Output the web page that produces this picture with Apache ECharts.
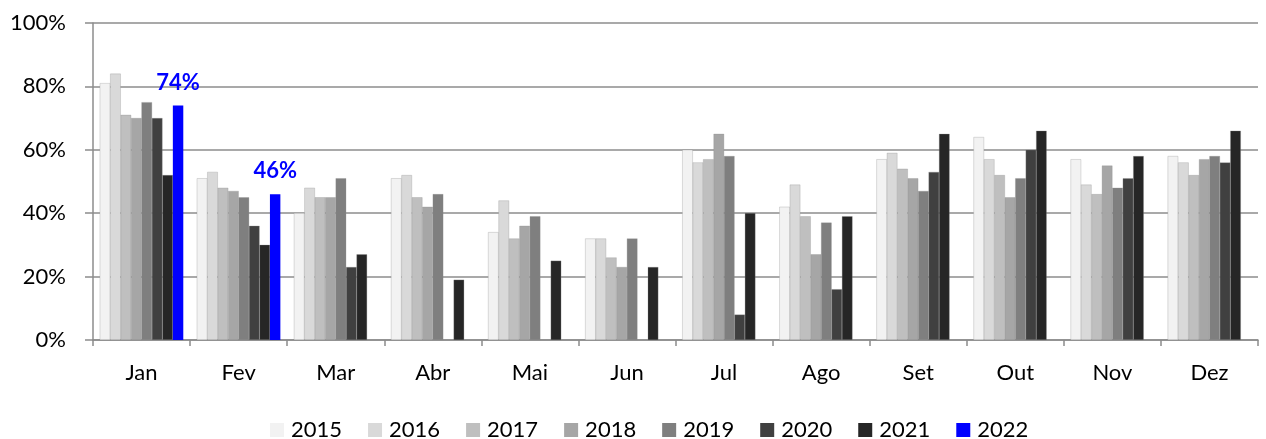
<!DOCTYPE html>
<html>
<head>
<meta charset="utf-8">
<script src="https://cdn.jsdelivr.net/npm/echarts@6/dist/echarts.min.js"></script>
<style>
html,body{margin:0;padding:0;background:#fff;}
#chart{width:1266px;height:439px;}
</style>
</head>
<body>
<div id="chart"></div>
<script>
const categories = ['Jan','Fev','Mar','Abr','Mai','Jun','Jul','Ago','Set','Out','Nov','Dez'];
const years = ['2015','2016','2017','2018','2019','2020','2021','2022'];
const v2015 = [81,51,40,51,34,32,60,42,57,64,57,58];
const v2016 = [84,53,48,52,44,32,56,49,59,57,49,56];
const v2017 = [71,48,45,45,32,26,57,39,54,52,46,52];
const v2018 = [70,47,45,42,36,23,65,27,51,45,55,57];
const v2019 = [75,45,51,46,39,32,58,37,47,51,48,58];
const v2020 = [70,36,23,null,null,null,8,16,53,60,51,56];
const v2021 = [52,30,27,19,25,23,40,39,65,66,58,66];
const v2022 = [74,46,null,null,null,null,null,null,null,null,null,null];
const yTicks = [0,20,40,60,80,100];

const seriesData = [v2015,v2016,v2017,v2018,v2019,v2020,v2021,v2022];
const colors = ['#f2f2f2','#d9d9d9','#bfbfbf','#a6a6a6','#7f7f7f','#404040','#262626','#0000ff'];
const FONT = 'Lato, "Open Sans", sans-serif';

const chart = echarts.init(document.getElementById('chart'));
chart.setOption({
  animation: false,
  color: colors,
  grid: {left: 93, right: 8, top: 23, bottom: 99},
  legend: {
    top: 414, left: 265,
    itemWidth: 14, itemHeight: 14, itemGap: 26,
    icon: 'rect',
    itemStyle: {borderWidth: 0},
    textStyle: {fontFamily: FONT, fontSize: 22, color: '#000', padding: [0,0,0,2]},
    data: years
  },
  xAxis: {
    type: 'category',
    data: categories,
    boundaryGap: true,
    axisLine: {lineStyle: {color: '#8c8c8c', width: 1.5}},
    axisTick: {show: true, interval: 0, length: 6, lineStyle: {color: '#8c8c8c', width: 1.5}},
    axisLabel: {fontFamily: FONT, fontSize: 22, color: '#000', margin: 22}
  },
  yAxis: {
    type: 'value', min: yTicks[0], max: yTicks[yTicks.length-1], interval: 20,
    axisLine: {show: true, lineStyle: {color: '#8c8c8c', width: 1.5}},
    axisTick: {show: true, length: 8, lineStyle: {color: '#8c8c8c', width: 1.5}},
    splitLine: {show: true, lineStyle: {color: '#8c8c8c', width: 1.5}},
    axisLabel: {fontFamily: FONT, fontSize: 22, color: '#000', margin: 27, formatter: '{value}%'}
  },
  series: years.map((y, i) => ({
    name: y,
    type: 'bar',
    data: seriesData[i],
    barGap: '0%',
    barCategoryGap: '14%',
    itemStyle: {color: colors[i], borderColor: i === 7 ? colors[i] : '#8c8c8c', borderWidth: i === 7 ? 0 : 0.3},
    label: i === 7 ? {
      show: true, position: 'top', distance: 12,
      color: '#0000ff', fontWeight: 'bold', fontFamily: FONT, fontSize: 22,
      formatter: '{c}%'
    } : {show: false}
  }))
});
</script>
</body>
</html>
